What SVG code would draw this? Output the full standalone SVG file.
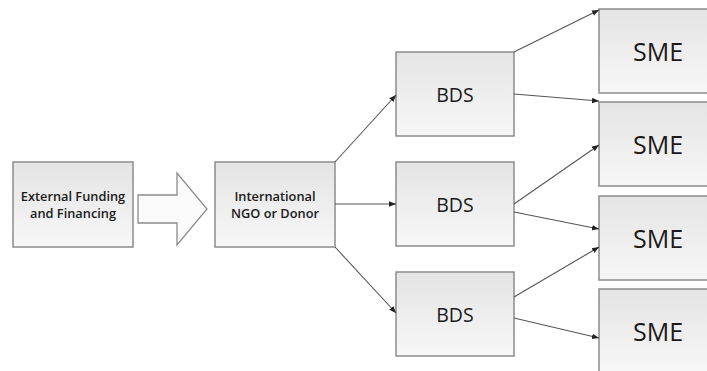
<svg xmlns="http://www.w3.org/2000/svg" width="707" height="371" viewBox="0 0 707 371">
<defs>
<linearGradient id="g" x1="0" y1="0" x2="0" y2="1">
<stop offset="0" stop-color="#e4e4e4"/>
<stop offset="1" stop-color="#f7f7f7"/>
</linearGradient>
<marker id="ah" viewBox="0 0 10 10" refX="10" refY="5" markerWidth="7" markerHeight="7" markerUnits="userSpaceOnUse" orient="auto">
<path d="M0,1 L10,5 L0,9 z" fill="#222"/>
</marker>
<style>
.box{fill:url(#g);stroke:#8c8c8c;stroke-width:1.5}
.t{font-family:"Open Sans","Liberation Sans",sans-serif;fill:#1a1a1a;text-anchor:middle;dominant-baseline:central}
.s{font-size:12.8px;font-weight:600}
.b{font-size:19.5px;font-weight:500}
.m{font-size:25px;font-weight:500}
.c{stroke:#555;stroke-width:1.1;fill:none;marker-end:url(#ah)}
</style>
</defs>
<rect width="707" height="371" fill="#fff"/>
<g id="ext">
<rect class="box" x="13" y="162" width="120" height="85"/>
<text class="t s" x="73" y="196">External Funding</text>
<text class="t s" x="73" y="213">and Financing</text>
</g>
<g id="bigarrow">
<path d="M138,195 L177,195 L177,173 L207,209 L177,245 L177,223 L138,223 z" fill="#fafafa" stroke="#8c8c8c" stroke-width="1.3"/>
</g>
<g id="ngo">
<rect class="box" x="215" y="162" width="120" height="85"/>
<text class="t s" x="275" y="196">International</text>
<text class="t s" x="275" y="213">NGO or Donor</text>
</g>
<g id="bds1">
<rect class="box" x="396" y="52" width="118" height="84"/>
<text class="t b" x="455" y="94">BDS</text>
</g>
<g id="bds2">
<rect class="box" x="396" y="162" width="118" height="84"/>
<text class="t b" x="455" y="204">BDS</text>
</g>
<g id="bds3">
<rect class="box" x="396" y="272" width="118" height="84"/>
<text class="t b" x="455" y="314">BDS</text>
</g>
<g id="sme1">
<rect class="box" x="599" y="9" width="130" height="84"/>
<text class="t m" x="658" y="51">SME</text>
</g>
<g id="sme2">
<rect class="box" x="599" y="102" width="130" height="84"/>
<text class="t m" x="658" y="144">SME</text>
</g>
<g id="sme3">
<rect class="box" x="599" y="196" width="130" height="84"/>
<text class="t m" x="658" y="238">SME</text>
</g>
<g id="sme4">
<rect class="box" x="599" y="289" width="130" height="84"/>
<text class="t m" x="658" y="331">SME</text>
</g>
<g id="connectors">
<line class="c" x1="335" y1="162" x2="396" y2="95"/>
<line class="c" x1="335" y1="204" x2="396" y2="204"/>
<line class="c" x1="335" y1="247" x2="396" y2="313"/>
<line class="c" x1="514" y1="52" x2="599" y2="10"/>
<line class="c" x1="514" y1="94" x2="599" y2="101"/>
<line class="c" x1="514" y1="204" x2="599" y2="145"/>
<line class="c" x1="514" y1="212" x2="599" y2="229"/>
<line class="c" x1="514" y1="297" x2="599" y2="247"/>
<line class="c" x1="514" y1="318" x2="599" y2="338"/>
</g>
</svg>
